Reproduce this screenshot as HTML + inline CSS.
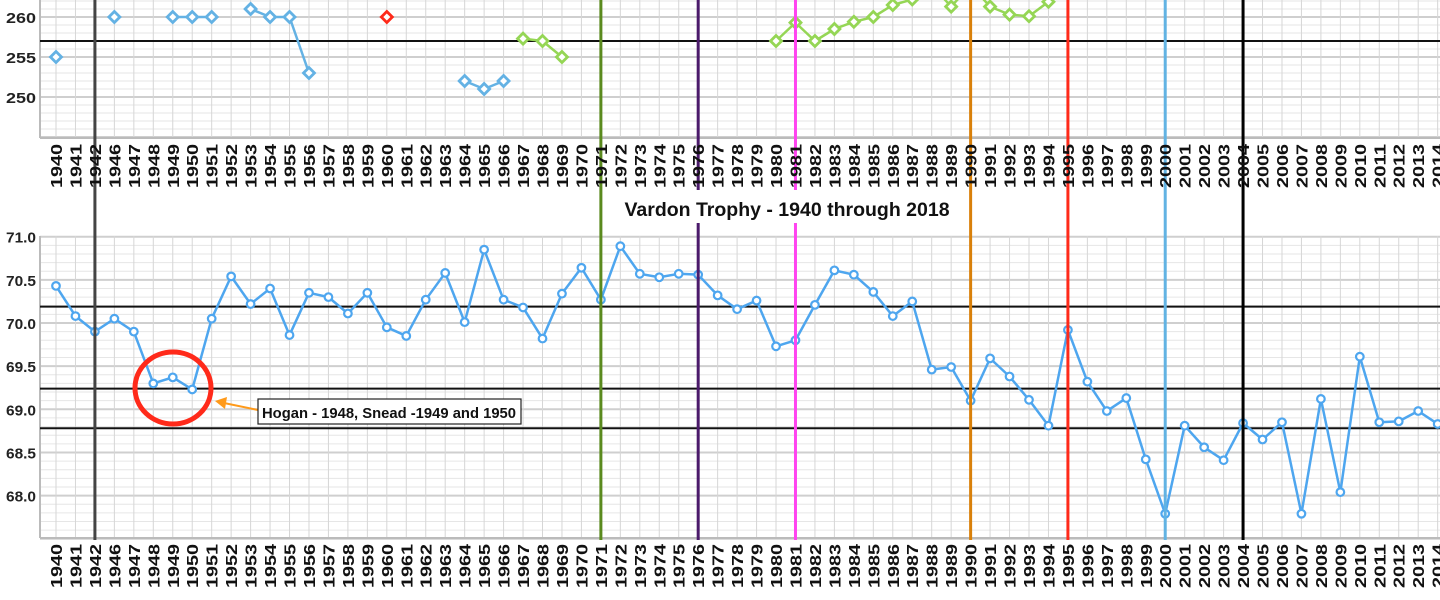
<!DOCTYPE html>
<html><head><meta charset="utf-8">
<style>
html,body{margin:0;padding:0;background:#fff;width:1440px;height:600px;overflow:hidden}
svg{display:block;font-family:"Liberation Sans",Arial,sans-serif}
</style></head>
<body>
<svg id="chart" width="1440" height="600" viewBox="0 0 1440 600" xmlns="http://www.w3.org/2000/svg">
<g id="grid"></g><g id="series"></g><g id="vlines"></g><g id="labels"></g><g id="overlay"></g>
</svg>
<script>
const years = [1940,1941,1942,1946,1947,1948,1949,1950,1951,1952,1953,1954,1955,1956,1957,1958,1959,1960,1961,1962,1963,1964,1965,1966,1967,1968,1969,1970,1971,1972,1973,1974,1975,1976,1977,1978,1979,1980,1981,1982,1983,1984,1985,1986,1987,1988,1989,1990,1991,1992,1993,1994,1995,1996,1997,1998,1999,2000,2001,2002,2003,2004,2005,2006,2007,2008,2009,2010,2011,2012,2013,2014];
const scoringAvg = [70.43,70.08,69.9,70.05,69.9,69.3,69.37,69.23,70.05,70.54,70.22,70.4,69.86,70.35,70.3,70.11,70.35,69.95,69.85,70.27,70.58,70.01,70.85,70.27,70.18,69.82,70.34,70.64,70.27,70.89,70.57,70.53,70.57,70.56,70.32,70.16,70.26,69.73,69.8,70.21,70.61,70.56,70.36,70.08,70.25,69.46,69.49,69.1,69.59,69.38,69.11,68.81,69.92,69.32,68.98,69.13,68.42,67.79,68.81,68.56,68.41,68.84,68.65,68.85,67.79,69.12,68.04,69.61,68.85,68.86,68.98,68.83];
const blueTopYears = [1940,1946,1949,1950,1951,1953,1954,1955,1956,1964,1965,1966];
const blueTopVals = [255,260,260,260,260,261,260,260,253,252,251,252];
const redTopYears = [1960];
const redTopVals = [260];
const greenTopYears = [1967,1968,1969,1980,1981,1982,1983,1984,1985,1986,1987,1988,1989,1990,1991,1992,1993,1994];
const greenTopVals = [257.3,257,255,257,259.3,257,258.5,259.4,260,261.5,262.2,264,261.3,264,261.3,260.3,260.1,261.9];
const bottomTicks = ["68.0","68.5","69.0","69.5","70.0","70.5","71.0"];
const topTicks = ["250","255","260"];
const refLinesBottom = [70.19,69.24,68.78];
const refLinesTop = [257];
const eraYears = [1942,1971,1976,1981,1990,1995,2000,2004];
const eraColors = ["#444","#5a8a1e","#4b1a6b","#ff44f0","#d9800a","#ff2a1a","#62b3e3","#000"];

const NS="http://www.w3.org/2000/svg";
function mk(tag,attrs,parent){const e=document.createElementNS(NS,tag);for(const k in attrs)e.setAttribute(k,attrs[k]);parent.appendChild(e);return e;}
const X0=56,DX=19.46,LEFT=40,RIGHT=1440;
function xOf(year){return X0+years.indexOf(year)*DX;}
function yB(v){return 323-(v-70)*86.3;}
function yT(v){return 17-(v-260)*8;}
const grid=document.getElementById('grid'),series=document.getElementById('series'),vl=document.getElementById('vlines'),lab=document.getElementById('labels'),ov=document.getElementById('overlay');

for(let v=245;v<=262;v++){
  const l=mk('line',{x1:LEFT,x2:RIGHT,y1:yT(v),y2:yT(v),stroke:v%5===0?'#cfcfcf':'#e6e6e6','stroke-width':v%5===0?2:1},grid);
  
}
for(let i=0;i<=35;i++){
  const v=67.5+i*0.1;
  const l=mk('line',{x1:LEFT,x2:RIGHT,y1:yB(v),y2:yB(v),stroke:i%5===0?'#cfcfcf':'#e6e6e6','stroke-width':i%5===0?2:1},grid);
  
}
years.forEach(y=>{
  const x=xOf(y);
  const a=mk('line',{x1:x,x2:x,y1:0,y2:138,stroke:'#d6d6d6','stroke-width':1},grid);
  
  const b=mk('line',{x1:x,x2:x,y1:236,y2:538,stroke:'#d6d6d6','stroke-width':1},grid);
  
});
[[LEFT,0,LEFT,138],[LEFT,138,RIGHT,138],[LEFT,236,LEFT,538],[LEFT,538,RIGHT,538]].forEach(p=>{
  const l=mk('line',{x1:p[0],y1:p[1],x2:p[2],y2:p[3],stroke:'#bbb','stroke-width':2},grid);
  
});
refLinesBottom.forEach(v=>{
  const l=mk('line',{x1:LEFT,x2:RIGHT,y1:yB(v),y2:yB(v),stroke:'#111','stroke-width':2},grid);
  
});
refLinesTop.forEach(v=>{
  const l=mk('line',{x1:LEFT,x2:RIGHT,y1:yT(v),y2:yT(v),stroke:'#111','stroke-width':2},grid);
  
});

function topSeries(ys,vs,color,name){
  const g=mk('g',{},series);
  
  for(let i=1;i<ys.length;i++){
    if(years.indexOf(ys[i])-years.indexOf(ys[i-1])===1){
      const l=mk('line',{x1:xOf(ys[i-1]),y1:yT(vs[i-1]),x2:xOf(ys[i]),y2:yT(vs[i]),stroke:color,'stroke-width':2.5},g);
      
    }
  }
  ys.forEach((y,i)=>{
    const x=xOf(y),yy=yT(vs[i]),r=5.5;
    const p=mk('polygon',{points:`${x},${yy-r} ${x+r},${yy} ${x},${yy+r} ${x-r},${yy}`,fill:'#fff',stroke:color,'stroke-width':2.8},g);
    
  });
}
topSeries(blueTopYears,blueTopVals,'#64b2e4','top-blue-series');
topSeries(redTopYears,redTopVals,'#ff2a1a','top-red-series');
topSeries(greenTopYears,greenTopVals,'#95d655','top-green-series');

const pts=years.map((y,i)=>xOf(y)+','+yB(scoringAvg[i])).join(' ');
const pl=mk('polyline',{points:pts,fill:'none',stroke:'#4ea6ef','stroke-width':2.5,'stroke-linejoin':'round'},series);

years.forEach((y,i)=>{
  const c=mk('circle',{cx:xOf(y),cy:yB(scoringAvg[i]),r:3.8,fill:'#fff',stroke:'#4ea6ef','stroke-width':2.2},series);
  
});

eraYears.forEach((y,i)=>{
  const l=mk('line',{x1:xOf(y),x2:xOf(y),y1:0,y2:540,stroke:eraColors[i],'stroke-width':3},vl);
  
});

function ylab(t,y){const e=mk('text',{x:36,y:y+6,'text-anchor':'end','font-size':15,'font-weight':'bold',fill:'#222',textLength:30,lengthAdjust:'spacingAndGlyphs'},lab);e.textContent=t;}
bottomTicks.forEach(t=>ylab(t,yB(parseFloat(t))));
topTicks.forEach(t=>ylab(t,yT(parseFloat(t))));
years.forEach(y=>{
  [[144,'top'],[544,'bottom']].forEach(([yy,n])=>{
    const x=xOf(y)+6;
    const e=mk('text',{x:0,y:0,transform:`translate(${x},${yy}) rotate(-90)`,'text-anchor':'end','font-size':16,'font-weight':'bold',fill:'#111',textLength:44,lengthAdjust:'spacingAndGlyphs'},lab);
    e.textContent=y;
    
  });
});

const tb=mk('rect',{x:606,y:190,width:360,height:33,fill:'#fff'},ov);

const tt=mk('text',{x:787,y:216,'text-anchor':'middle','font-size':19.5,'font-weight':'bold',fill:'#111'},ov);
tt.textContent='Vardon Trophy - 1940 through 2018';


const el=mk('ellipse',{cx:173,cy:388,rx:38,ry:36,fill:'none',stroke:'#ff2a1a','stroke-width':5},ov);

const ar=mk('line',{x1:258,y1:410,x2:224,y2:403,stroke:'#ff9a1a','stroke-width':2},ov);

const ah=mk('polygon',{points:'215,401 227,397 225,409',fill:'#ff9a1a'},ov);

const ab=mk('rect',{x:258,y:399,width:263,height:25,fill:'#fff',stroke:'#222','stroke-width':1.2},ov);

const at=mk('text',{x:262,y:418,'font-size':15,'font-weight':'bold',fill:'#111',textLength:254,lengthAdjust:'spacingAndGlyphs'},ov);
at.textContent='Hogan - 1948, Snead -1949 and 1950';

</script>
</body></html>
